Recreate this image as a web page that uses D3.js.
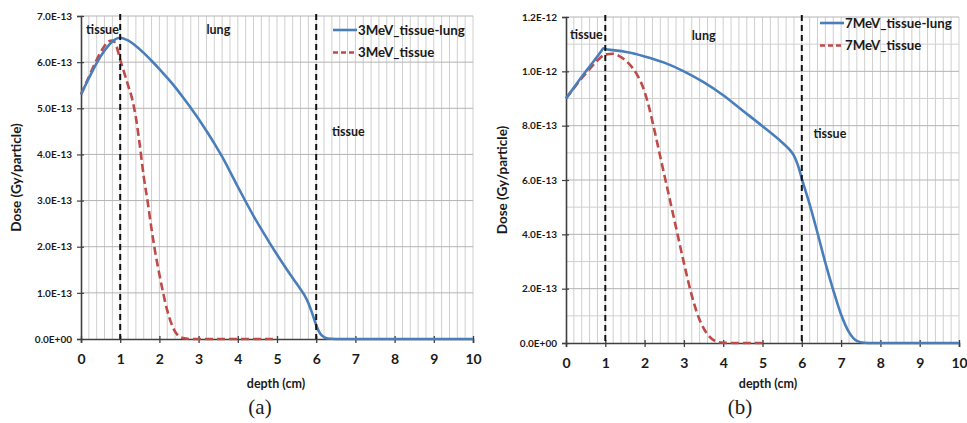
<!DOCTYPE html>
<html>
<head>
<meta charset="utf-8">
<script src="https://cdn.jsdelivr.net/npm/d3@7"></script>
<style>
  html, body { margin: 0; padding: 0; background: #ffffff; }
  svg { display: block; }
  text { font-family: Lato, "Open Sans", sans-serif; font-weight: 700; fill: #1a1a1a; }
</style>
</head>
<body>
<svg id="chart" width="967" height="423"></svg>
<script>
// ---------- DATA (dose values in units of 1E-13 Gy/particle) ----------
const depth3Lung = [0,0.2,0.4,0.6,0.8,1.0,1.2,1.4,1.6,1.8,2.0,2.2,2.4,2.6,2.8,3.0,3.2,3.4,3.6,3.8,4.0,4.2,4.4,4.6,4.8,5.0,5.2,5.4,5.6,5.7,5.8,5.9,6.0,6.1,6.2,6.3,6.5,7,8,9,10];
const dose3Lung  = [5.30,5.65,5.98,6.25,6.45,6.53,6.47,6.35,6.20,6.03,5.85,5.66,5.46,5.24,5.01,4.77,4.51,4.24,3.95,3.63,3.30,2.98,2.67,2.38,2.10,1.83,1.57,1.32,1.08,0.95,0.78,0.55,0.30,0.12,0.04,0.01,0,0,0,0,0];

const depth3Tissue = [0,0.2,0.4,0.6,0.7,0.8,0.9,1.0,1.1,1.2,1.3,1.4,1.5,1.6,1.7,1.8,1.9,2.0,2.1,2.2,2.3,2.4,2.5,2.6,2.8,3,4,5];
const dose3Tissue  = [5.30,5.68,6.05,6.35,6.45,6.47,6.36,6.05,5.78,5.50,5.22,4.80,4.20,3.52,2.98,2.38,1.85,1.40,0.98,0.62,0.35,0.16,0.06,0.02,0,0,0,0];

const depth7Lung = [0,0.2,0.4,0.6,0.8,0.9,0.95,1.0,1.2,1.5,2.0,2.5,3.0,3.5,4.0,4.5,5.0,5.5,5.7,5.8,5.9,6.0,6.2,6.4,6.6,6.8,7.0,7.2,7.4,7.6,7.8,8,9,10];
const dose7Lung  = [9.00,9.40,9.80,10.18,10.55,10.75,10.85,10.82,10.78,10.72,10.55,10.32,10.00,9.60,9.12,8.55,7.98,7.38,7.10,6.90,6.55,6.05,5.10,4.05,2.95,1.95,1.05,0.40,0.08,0.01,0,0,0,0];

const depth7Tissue = [0,0.2,0.4,0.6,0.8,1.0,1.2,1.4,1.6,1.8,2.0,2.1,2.2,2.4,2.6,2.8,3.0,3.2,3.4,3.6,3.8,4.0,4.2,4.5,5.0];
const dose7Tissue  = [9.00,9.38,9.75,10.08,10.40,10.62,10.65,10.52,10.28,9.90,9.25,8.75,8.15,6.85,5.55,4.25,2.95,1.75,0.85,0.32,0.07,0.01,0,0,0];

const xTicks = [0,1,2,3,4,5,6,7,8,9,10];
const yTicksA = [0,1,2,3,4,5,6,7];
const yTickLabelsA = ["0.0E+00","1.0E-13","2.0E-13","3.0E-13","4.0E-13","5.0E-13","6.0E-13","7.0E-13"];
const yTicksB = [0,2,4,6,8,10,12];
const yTickLabelsB = ["0.0E+00","2.0E-13","4.0E-13","6.0E-13","8.0E-13","1.0E-12","1.2E-12"];
const boundaries = [1, 6];
const legendA = ["3MeV_tissue-lung","3MeV_tissue"];
const legendB = ["7MeV_tissue-lung","7MeV_tissue"];
const regionLabels = ["tissue","lung","tissue"];
const xTitle = "depth (cm)";
const yTitle = "Dose (Gy/particle)";
const captions = ["(a)","(b)"];

// ---------- DRAWING ----------
const svg = d3.select("#chart");
const BLUE = "#4a7ebb", RED = "#be4b48";

function drawPanel(p) {
  const g = svg.append("g");
  const x = d3.scaleLinear().domain([0, 10]).range([p.left, p.right]);
  const y = d3.scaleLinear().domain([0, p.ymax]).range([p.bottom, p.top]);

  // vertical grid every 0.2
  g.append("g").selectAll("line").data(d3.range(1, 51).map(i => i * 0.2))
    .join("line")
    .attr("x1", d => x(d)).attr("x2", d => x(d))
    .attr("y1", p.top).attr("y2", p.bottom)
    .attr("stroke", "#cfcfcf").attr("stroke-width", 1);
  // minor horizontal grid
  if (p.minorY) {
    g.append("g").selectAll("line").data(p.minorY)
      .join("line")
      .attr("x1", p.left).attr("x2", p.right)
      .attr("y1", d => y(d)).attr("y2", d => y(d))
      .attr("stroke", "#d0d0d0").attr("stroke-width", 1);
  }
  // major horizontal grid
  g.append("g").selectAll("line").data(p.yTicks.filter(d => d > 0))
    .join("line")
    .attr("x1", p.left).attr("x2", p.right)
    .attr("y1", d => y(d)).attr("y2", d => y(d))
    .attr("stroke", "#b4b4b4").attr("stroke-width", 1);

  // axes
  const xAxis = d3.axisBottom(x).tickValues(xTicks).tickSize(4).tickPadding(11).tickFormat(d3.format("d"));
  const gx = g.append("g").attr("transform", `translate(0,${p.bottom})`).call(xAxis);
  gx.select(".domain").attr("stroke", "#404040").attr("stroke-width", 1.6);
  gx.selectAll(".tick line").attr("stroke", "#404040").attr("stroke-width", 1.3).attr("y1", -3);
  gx.selectAll(".tick text").attr("font-size", 14).attr("font-family", "Lato, sans-serif").attr("font-weight", 700).attr("fill", "#1a1a1a");

  const yAxis = d3.axisLeft(y).tickValues(p.yTicks).tickSize(4).tickPadding(5)
    .tickFormat((d, i) => p.yTickLabels[i]);
  const gy = g.append("g").attr("transform", `translate(${p.left},0)`).call(yAxis);
  gy.select(".domain").attr("stroke", "#404040").attr("stroke-width", 1.6);
  gy.selectAll(".tick line").attr("stroke", "#404040").attr("stroke-width", 1.2).attr("x2", -4).attr("x1", 3);
  gy.selectAll(".tick text").attr("font-size", 10).attr("font-family", "Lato, sans-serif").attr("font-weight", 700).attr("fill", "#2a2a2a");

  // series
  const line = d3.line().x(d => x(d[0])).y(d => y(d[1])).curve(d3.curveMonotoneX);
  g.append("path").datum(d3.zip(p.depthT, p.doseT))
    .attr("d", line).attr("fill", "none").attr("stroke", RED)
    .attr("stroke-width", 2.6).attr("stroke-dasharray", "8,4");
  g.append("path").datum(d3.zip(p.depthL, p.doseL))
    .attr("d", line).attr("fill", "none").attr("stroke", BLUE)
    .attr("stroke-width", 2.6);

  // boundary dashed lines
  g.append("g").selectAll("line").data(boundaries).join("line")
    .attr("x1", d => x(d)).attr("x2", d => x(d))
    .attr("y1", p.top - 2).attr("y2", p.bottom)
    .attr("stroke", "#111").attr("stroke-width", 2).attr("stroke-dasharray", "6,4");

  // region labels
  p.regionPos.forEach((r, i) => {
    g.append("text").attr("x", x(r[0])).attr("y", y(r[1]))
      .attr("font-size", 12.5).text(regionLabels[i]);
  });

  // legend
  p.legend.forEach((t, i) => {
    const ly = p.legendY + i * 22.5;
    g.append("line").attr("x1", p.legendX).attr("x2", p.legendX + 24)
      .attr("y1", ly).attr("y2", ly)
      .attr("stroke", i === 0 ? BLUE : RED).attr("stroke-width", 2.6)
      .attr("stroke-dasharray", i === 0 ? null : "5,3");
    g.append("text").attr("x", p.legendX + 25).attr("y", ly + 4.5)
      .attr("font-size", 13.3).text(t);
  });

  // titles
  g.append("text").attr("x", p.xTitleX).attr("y", 388).attr("text-anchor", "middle")
    .attr("font-size", 12.5).text(xTitle);
  g.append("text").attr("transform", `translate(${p.yTitleX},${(p.top + p.bottom) / 2}) rotate(-90)`)
    .attr("text-anchor", "middle").attr("font-size", 13.5).text(yTitle);
  g.append("text").attr("x", p.captionX).attr("y", 414).attr("text-anchor", "middle")
    .style("font-family", "'Liberation Serif', 'DejaVu Serif', serif").style("font-weight", 400)
    .attr("font-size", 21).text(p.caption);
}

drawPanel({
  left: 81, right: 473, top: 16, bottom: 339, ymax: 7,
  yTicks: yTicksA, yTickLabels: yTickLabelsA, minorY: null,
  depthL: depth3Lung, doseL: dose3Lung, depthT: depth3Tissue, doseT: dose3Tissue,
  regionPos: [[0.13, 6.6], [3.2, 6.6], [6.4, 4.4]],
  legend: legendA, legendX: 333, legendY: 30,
  xTitleX: 276, yTitleX: 21, captionX: 260, caption: captions[0]
});

drawPanel({
  left: 566, right: 959, top: 17, bottom: 343, ymax: 12,
  yTicks: yTicksB, yTickLabels: yTickLabelsB, minorY: [1,3,5,7,9,11],
  depthL: depth7Lung, doseL: dose7Lung, depthT: depth7Tissue, doseT: dose7Tissue,
  regionPos: [[0.1, 11.2], [3.2, 11.15], [6.3, 7.55]],
  legend: legendB, legendX: 820, legendY: 23,
  xTitleX: 768, yTitleX: 507, captionX: 740, caption: captions[1]
});
</script>
</body>
</html>
